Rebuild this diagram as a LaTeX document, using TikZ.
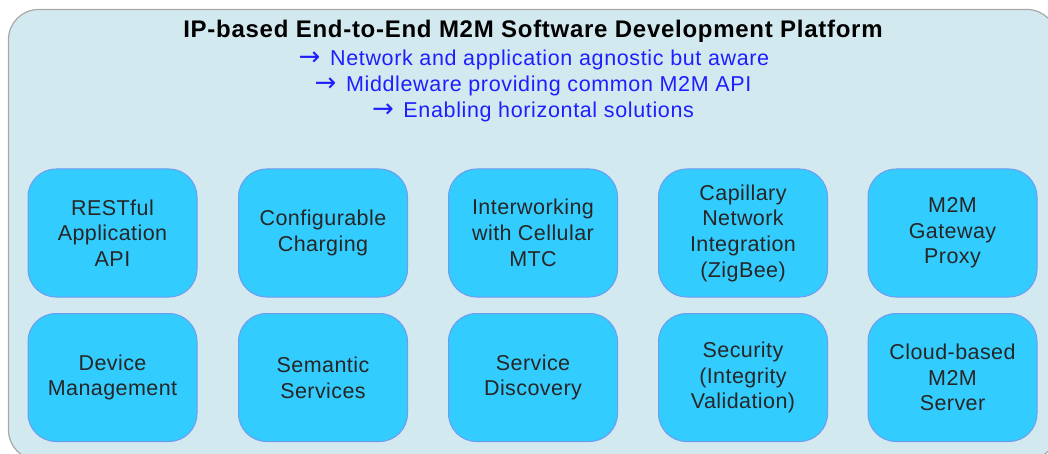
\documentclass[tikz,border=0pt]{standalone}
\usepackage{fontspec}
\setmainfont{Liberation Sans}
\newfontfamily\spacedfont[LetterSpace=3]{Liberation Sans}
\newfontfamily\boxfont[LetterSpace=2]{Liberation Sans}
\newfontfamily\arrowfont{DejaVu Sans}
\newcommand{\rarr}{{\arrowfont\fontsize{26}{25}\selectfont →}\hspace{3pt}}
\definecolor{outerfill}{HTML}{D2E9EF}
\definecolor{outerdraw}{HTML}{A8A8A8}
\definecolor{boxfill}{HTML}{33CCFF}
\definecolor{boxdraw}{HTML}{6F9BF0}
\definecolor{bluetext}{HTML}{1E1EFF}
\tikzset{
  featbox/.style={draw=boxdraw, line width=1pt, fill=boxfill, rounded corners=28pt,
    minimum width=169pt, minimum height=128pt, inner sep=0pt, align=center,
    font=\boxfont\fontsize{21.5}{25.7}\selectfont, text=black!85},
  bluel/.style={font=\spacedfont\fontsize{21.5}{25}\selectfont, text=bluetext, inner sep=0pt},
}
\begin{document}
\begin{tikzpicture}[x=1pt,y=-1pt]
\useasboundingbox (0,0) rectangle (1048,454);
\begin{scope}
\clip (0,0) rectangle (1048,454);
\draw[draw=outerdraw, fill=outerfill, line width=1.2pt, rounded corners=30pt] (8.5,9.5) rectangle (1057,460);
\end{scope}
\node[font=\spacedfont\bfseries\fontsize{24}{28}\selectfont, inner sep=0pt] (title) at (533,31.5) {IP-based End-to-End M2M Software Development Platform};
\node[bluel, anchor=base] (l1) at (534,66) {\rarr\ Network and application agnostic but aware};
\node[bluel, anchor=base] (l2) at (533,92) {\rarr\ Middleware providing common M2M API};
\node[bluel, anchor=base] (l3) at (533,118) {\rarr\ Enabling horizontal solutions};
\node[featbox] (a1) at (112.5,233) {RESTful\\Application\\API};
\node[featbox] (a2) at (323,233) {Configurable\\Charging};
\node[featbox] (a3) at (533,233) {Interworking\\with Cellular\\MTC};
\node[featbox] (a4) at (743,233) {Capillary\\Network\\Integration\\(ZigBee)};
\node[featbox] (a5) at (952.5,233) {M2M\\Gateway\\Proxy};
\node[featbox] (b1) at (112.5,377.5) {Device\\Management};
\node[featbox] (b2) at (323,377.5) {Semantic\\Services};
\node[featbox] (b3) at (533,377.5) {Service\\Discovery};
\node[featbox] (b4) at (743,377.5) {Security\\(Integrity\\Validation)};
\node[featbox] (b5) at (952.5,377.5) {Cloud-based\\M2M\\Server};
\end{tikzpicture}
\end{document}
